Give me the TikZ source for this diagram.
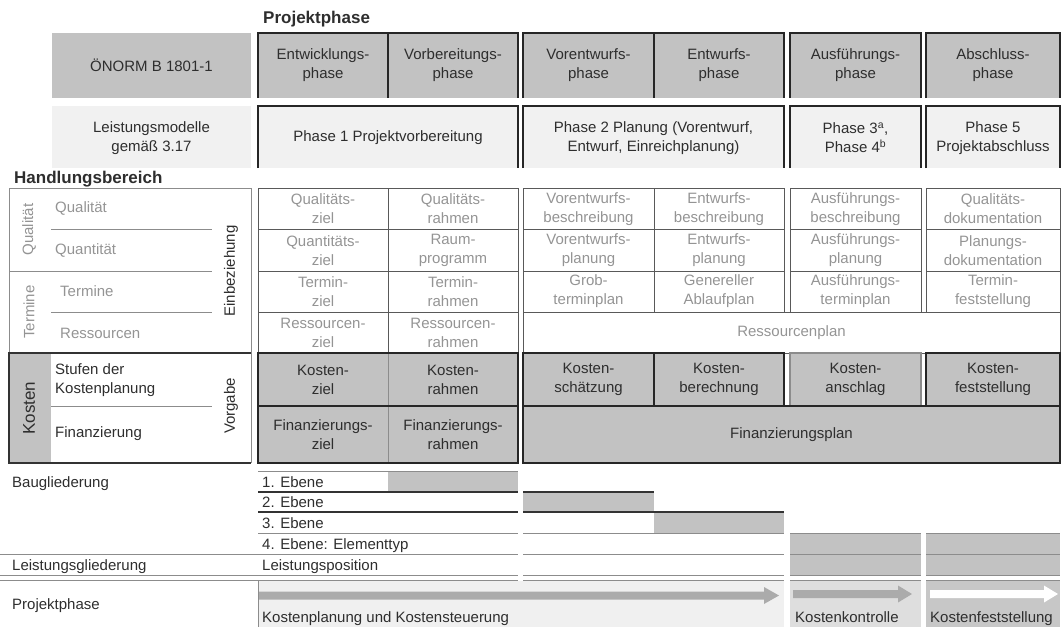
\documentclass[tikz,border=0pt]{standalone}
\usepackage{fontspec}
\setmainfont{Liberation Sans}
\usetikzlibrary{positioning}

\definecolor{headgray}{gray}{0.76}
\definecolor{softgray}{gray}{0.945}
\definecolor{textgray}{gray}{0.58}
\definecolor{rulegray}{gray}{0.55}
\definecolor{inkgray}{gray}{0.18}
\definecolor{arrowgray}{gray}{0.67}

\tikzset{
  txt/.style={font=\fontsize{15}{19}\selectfont, text=inkgray, inner sep=0pt, align=center},
  softtxt/.style={txt, text=textgray},
  lefttxt/.style={txt, anchor=west, align=left},
  softleft/.style={softtxt, anchor=west, align=left},
  basetxt/.style={txt, anchor=base west, align=left},
  titletxt/.style={font=\fontsize{17}{20}\selectfont\bfseries, text=inkgray, inner sep=0pt, anchor=west},
  frame/.style={draw=black!85, line width=2.2pt},
  gridline/.style={draw=black!65, line width=0.9pt},
  faintline/.style={draw=rulegray, line width=0.9pt},
}

\begin{document}
\begin{tikzpicture}[x=1pt, y=-1pt]
    \useasboundingbox (0,0) rectangle (1062,627);

    % titles
    \node[titletxt] (projtitle) at (263,19) {Projektphase};
    \node[titletxt] (handtitle) at (14,179) {Handlungsbereich};

    % norm row
    \path[fill=headgray] (52,33) rectangle (251,98);
    \path[fill=headgray] (258,33) rectangle (518,98);
    \path[fill=headgray] (523,33) rectangle (784,98);
    \path[fill=headgray] (790,33) rectangle (921,98);
    \path[fill=headgray] (926,33) rectangle (1060,98);
    \path[frame] (258,98) -- (258,33) -- (518,33) -- (518,98);
    \path[frame] (388,33) -- (388,98);
    \path[frame] (523,98) -- (523,33) -- (784,33) -- (784,98);
    \path[frame] (654,33) -- (654,98);
    \path[frame] (790,98) -- (790,33) -- (921,33) -- (921,98);
    \path[frame] (926,98) -- (926,33) -- (1060,33) -- (1060,98);

    \node[txt] (oenorm) at (151.5,65.5) {ÖNORM B 1801-1};
    \node[txt] (entw) at (323,65.5) {Entwicklungs-\\phase};
    \node[txt] (vorb) at (453,65.5) {Vorbereitungs-\\phase};
    \node[txt] (vorent) at (588.5,65.5) {Vorentwurfs-\\phase};
    \node[txt] (entwurf) at (719,65.5) {Entwurfs-\\phase};
    \node[txt] (ausf) at (855.5,65.5) {Ausführungs-\\phase};
    \node[txt] (abschl) at (993,65.5) {Abschluss-\\phase};

    % service model row
    \path[fill=softgray] (52,106) rectangle (251,168);
    \path[fill=softgray] (258,106) rectangle (518,168);
    \path[fill=softgray] (523,106) rectangle (784,168);
    \path[fill=softgray] (790,106) rectangle (921,168);
    \path[fill=softgray] (926,106) rectangle (1060,168);
    \path[frame] (258,168) -- (258,106) -- (518,106) -- (518,168);
    \path[frame] (523,168) -- (523,106) -- (784,106) -- (784,168);
    \path[frame] (790,168) -- (790,106) -- (921,106) -- (921,168);
    \path[frame] (926,168) -- (926,106) -- (1060,106) -- (1060,168);

    \node[txt] (lmodell) at (151.5,138) {Leistungsmodelle\\gemäß 3.17};
    \node[txt] (phase1) at (388,138) {Phase 1 Projektvorbereitung};
    \node[txt] (phase2) at (653.5,138) {Phase 2 Planung (Vorentwurf,\\Entwurf, Einreichplanung)};
    \node[txt] (phase34) at (855.5,138) {Phase 3\textsuperscript{a},\\Phase 4\textsuperscript{b}};
    \node[txt] (phase5) at (993,138) {Phase 5\\Projektabschluss};

    % left block quality / schedule
    \path[faintline] (9,188) rectangle (251,353);
    \path[faintline] (51,229.5) -- (212,229.5);
    \path[faintline] (9,271) -- (212,271);
    \path[faintline] (51,312) -- (212,312);
    \node[softtxt, rotate=90] (qualrot) at (29,229.5) {Qualität};
    \node[softtxt, rotate=90] (termrot) at (29,312) {Termine};
    \node[softleft] (qual) at (55,208.5) {Qualität};
    \node[softleft] (quant) at (55,250) {Quantität};
    \node[softleft] (term) at (60,291.5) {Termine};
    \node[softleft] (ress) at (60,333) {Ressourcen};
    \node[txt, rotate=90] (einbez) at (231,271) {Einbeziehung};

    % left block costs
    \path[fill=headgray] (9,353) rectangle (51,463);
    \path[draw=black!80, line width=1.2pt] (251,353) -- (9,353) -- (9,463) -- (251,463);
    \path[faintline] (251,353) -- (251,463);
    \path[faintline] (51,406) -- (212,406);
    \node[txt, rotate=90, font=\fontsize{17}{20}\selectfont] (kostrot) at (29,408) {Kosten};
    \node[lefttxt] (stufen) at (55,380) {Stufen der\\Kostenplanung};
    \node[lefttxt] (finanz) at (55,434) {Finanzierung};
    \node[txt, rotate=90] (vorgabe) at (231,406) {Vorgabe};

    % phase grid quality / schedule
    \path[gridline] (258,188) rectangle (518,353);
    \path[gridline] (388,188) -- (388,353);
    \path[gridline] (523,188) rectangle (784,312);
    \path[gridline] (654,188) -- (654,312);
    \path[gridline] (790,188) rectangle (921,312);
    \path[gridline] (926,188) rectangle (1060,312);
    \path[gridline] (523,312) rectangle (1060,353);
    \foreach \y in {229.5,271} {
      \path[gridline] (258,\y) -- (518,\y);
      \path[gridline] (523,\y) -- (784,\y);
      \path[gridline] (790,\y) -- (921,\y);
      \path[gridline] (926,\y) -- (1060,\y);
    }
    \path[gridline] (258,312) -- (518,312);

    \node[softtxt] (qz) at (323,208.75) {Qualitäts-\\ziel};
    \node[softtxt] (qr) at (453,208.75) {Qualitäts-\\rahmen};
    \node[softtxt] (vb) at (588.5,208.75) {Vorentwurfs-\\beschreibung};
    \node[softtxt] (eb) at (719,208.75) {Entwurfs-\\beschreibung};
    \node[softtxt] (ab) at (855.5,208.75) {Ausführungs-\\beschreibung};
    \node[softtxt] (qd) at (993,208.75) {Qualitäts-\\dokumentation};

    \node[softtxt] (mz) at (323,250.25) {Quantitäts-\\ziel};
    \node[softtxt] (rp) at (453,250.25) {Raum-\\programm};
    \node[softtxt] (vp) at (588.5,250.25) {Vorentwurfs-\\planung};
    \node[softtxt] (ep) at (719,250.25) {Entwurfs-\\planung};
    \node[softtxt] (ap) at (855.5,250.25) {Ausführungs-\\planung};
    \node[softtxt] (pd) at (993,250.25) {Planungs-\\dokumentation};

    \node[softtxt] (tz) at (323,291.5) {Termin-\\ziel};
    \node[softtxt] (tr) at (453,291.5) {Termin-\\rahmen};
    \node[softtxt] (gt) at (588.5,291.5) {Grob-\\terminplan};
    \node[softtxt] (ga) at (719,291.5) {Genereller\\Ablaufplan};
    \node[softtxt] (at) at (855.5,291.5) {Ausführungs-\\terminplan};
    \node[softtxt] (tf) at (993,291.5) {Termin-\\feststellung};

    \node[softtxt] (rz) at (323,332.5) {Ressourcen-\\ziel};
    \node[softtxt] (rr) at (453,332.5) {Ressourcen-\\rahmen};
    \node[softtxt] (rplan) at (791.5,332.5) {Ressourcenplan};

    % phase grid costs
    \path[fill=headgray] (258,353) rectangle (518,463);
    \path[fill=headgray] (523,353) rectangle (784,406);
    \path[fill=headgray] (790,353) rectangle (921,406);
    \path[fill=headgray] (926,353) rectangle (1060,406);
    \path[fill=headgray] (523,406) rectangle (1060,463);
    \path[faintline] (388,353) -- (388,463);
    \path[frame] (258,353) rectangle (518,406);
    \path[frame] (258,406) rectangle (518,463);
    \path[frame] (523,353) rectangle (784,406);
    \path[frame] (654,353) -- (654,406);
    \path[draw=black!45, line width=2.2pt] (790,353) rectangle (921,406);
    \path[frame] (926,353) rectangle (1060,406);
    \path[frame] (523,406) rectangle (1060,463);

    \node[txt] (kz) at (323,379.5) {Kosten-\\ziel};
    \node[txt] (kr) at (453,379.5) {Kosten-\\rahmen};
    \node[txt] (ks) at (588.5,379.5) {Kosten-\\schätzung};
    \node[txt] (kb) at (719,379.5) {Kosten-\\berechnung};
    \node[txt] (ka) at (855.5,379.5) {Kosten-\\anschlag};
    \node[txt] (kf) at (993,379.5) {Kosten-\\feststellung};
    \node[txt] (fz) at (323,434.5) {Finanzierungs-\\ziel};
    \node[txt] (fr) at (453,434.5) {Finanzierungs-\\rahmen};
    \node[txt] (fplan) at (791.5,434.5) {Finanzierungsplan};

    % structure levels
    \path[fill=headgray] (388,471) rectangle (518,492);
    \path[fill=headgray] (523,492) rectangle (654,512);
    \path[fill=headgray] (654,512) rectangle (784,533);
    \path[fill=headgray] (790,533) rectangle (921,575);
    \path[fill=headgray] (926,533) rectangle (1060,575);

    \path[faintline] (258,471) -- (518,471);
    \path[draw=black!80, line width=1.2pt] (258,492) -- (518,492);
    \path[draw=black!80, line width=1.2pt] (523,492) -- (654,492);
    \path[draw=black!80, line width=1.2pt] (258,512) -- (518,512);
    \path[draw=black!80, line width=1.2pt] (523,512) -- (784,512);
    \path[faintline] (258,533) -- (518,533);
    \path[faintline] (523,533) -- (784,533);
    \foreach \y in {554,575,580} {
      \path[faintline] (0,\y) -- (518,\y);
      \path[faintline] (523,\y) -- (784,\y);
    }
    \foreach \y in {533,554,575,580} {
      \path[faintline] (790,\y) -- (921,\y);
      \path[faintline] (926,\y) -- (1060,\y);
    }

    \node[basetxt] (baugl) at (12,487) {Baugliederung};
    \node[basetxt] (ebene1) at (262,487) {1. Ebene};
    \node[basetxt] (ebene2) at (262,507.5) {2. Ebene};
    \node[basetxt] (ebene3) at (262,528) {3. Ebene};
    \node[basetxt] (ebene4) at (262,549) {4. Ebene: Elementtyp};
    \node[basetxt] (leistgl) at (12,570) {Leistungsgliederung};
    \node[basetxt] (leistpos) at (262,570) {Leistungsposition};

    % project phase arrows
    \path[fill=black!6] (258,581) rectangle (784,627);
    \path[fill=black!13] (790,581) rectangle (921,627);
    \path[fill=black!22] (926,581) rectangle (1060,627);
    \path[faintline] (258,580) -- (258,627);

    \path[fill=arrowgray] (259,591.5) -- (764,591.5) -- (764,587) -- (779,595.5)
        -- (764,604) -- (764,599.5) -- (259,599.5) -- cycle;
    \path[fill=arrowgray] (793,590) -- (898,590) -- (898,585.5) -- (912,594)
        -- (898,602.5) -- (898,598) -- (793,598) -- cycle;
    \path[fill=white] (930,590) -- (1044,590) -- (1044,585.5) -- (1058,594)
        -- (1044,602.5) -- (1044,598) -- (930,598) -- cycle;

    \node[basetxt] (projph) at (12,609) {Projektphase};
    \node[basetxt] (kplan) at (262,622) {Kostenplanung und Kostensteuerung};
    \node[basetxt] (kkontr) at (795,622) {Kostenkontrolle};
    \node[basetxt] (kfest) at (930,622) {Kostenfeststellung};
\end{tikzpicture}
\end{document}
